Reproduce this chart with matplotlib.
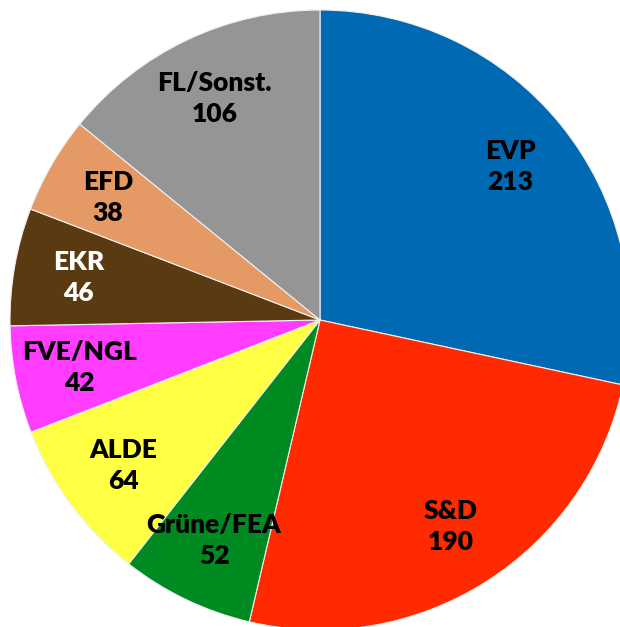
import numpy as np
import matplotlib.pyplot as plt

# Sitzverteilung
parteien = ['EVP', 'S&D', 'Grüne/FEA', 'ALDE', 'FVE/NGL', 'EKR', 'EFD', 'FL/Sonst.']
sitze = [213, 190, 52, 64, 42, 46, 38, 106]
farben = ['#0069B4', '#FF2A00', '#008A22', '#FFFF44', '#FF3CFF',
          '#5A3A10', '#E59A66', '#959595']
textfarben = ['black', 'black', 'black', 'black', 'black',
              'white', 'black', 'black']

plt.rcParams['font.family'] = ['Lato', 'DejaVu Sans']

fig = plt.figure(figsize=(6.2, 6.27), dpi=100)
ax = fig.add_axes([0, 0, 1, 1])

R = 310.0
wedges, _ = ax.pie(sitze, colors=farben, startangle=90, counterclock=False,
                   radius=R, center=(0, 0),
                   wedgeprops=dict(edgecolor='#f0f0f0', linewidth=0.8))

# Beschriftung in der Mitte jedes Segments
for w, name, n, tf in zip(wedges, parteien, sitze, textfarben):
    ang = np.deg2rad((w.theta1 + w.theta2) / 2)
    x = 0.79 * R * np.cos(ang)
    y = 0.79 * R * np.sin(ang)
    ax.text(x, y, f"{name}\n{n}", ha='center', va='center',
            fontsize=19, fontweight='heavy', linespacing=1.35, color=tf)

ax.set_xlim(-320, 300)
ax.set_ylim(-307, 320)
ax.set_aspect('equal')
ax.axis('off')

fig.savefig('out.png', dpi=100, facecolor='white')
